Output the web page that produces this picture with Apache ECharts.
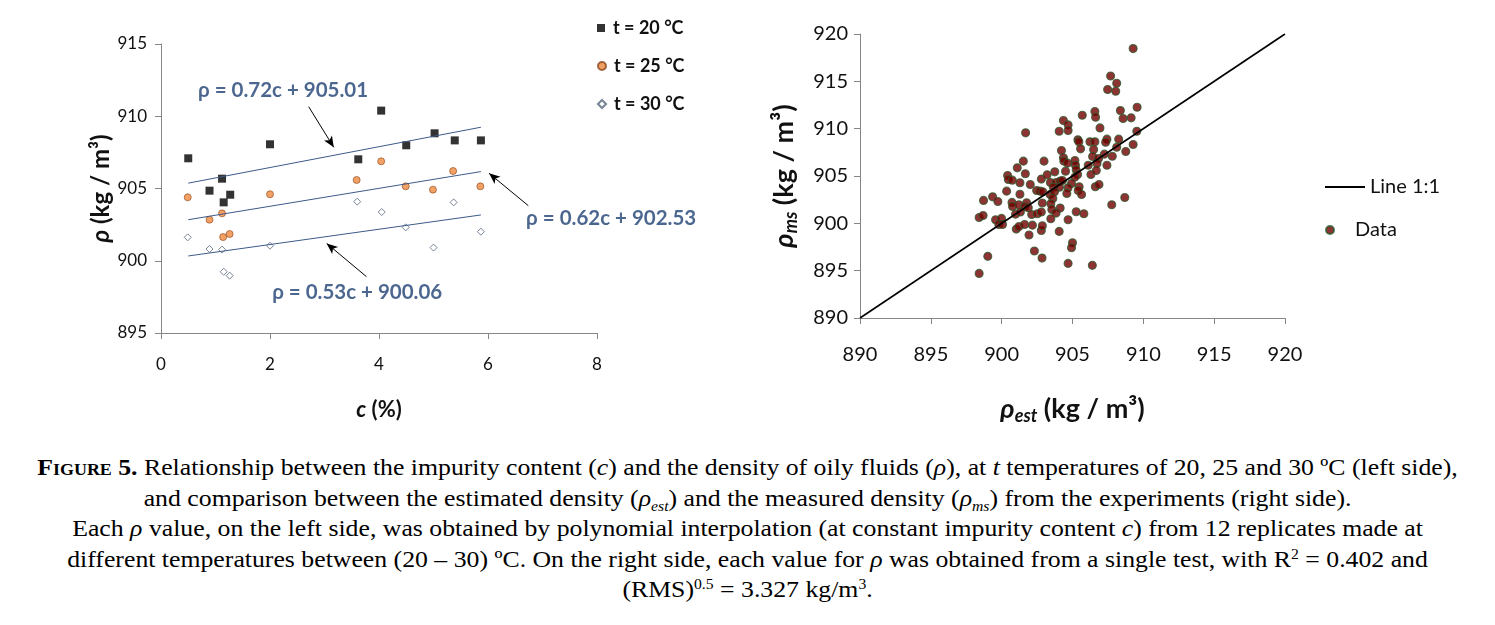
<!DOCTYPE html>
<html>
<head>
<meta charset="utf-8">
<script src="https://cdn.jsdelivr.net/npm/echarts@6/dist/echarts.min.js"></script>
<style>
  html, body { margin: 0; padding: 0; background: #fff; }
  #chart { position: absolute; left: 0; top: 0; width: 1495px; height: 440px; }
  #caption {
    position: absolute; left: 0; top: 453px; width: 1495px;
    text-align: center; font-family: "Liberation Serif", serif; font-size: 23px; line-height: 30.5px; color: #000;
    transform: scaleX(1.12); transform-origin: 747px 0;
  }
  #caption .sc { font-variant: small-caps; font-weight: bold; }
  #caption sub { font-size: 14px; vertical-align: -5px; line-height: 0; }
  #caption sup { font-size: 14px; vertical-align: 8px; line-height: 0; }
</style>
</head>
<body>
<div id="chart"></div>
<div id="caption">
<span class="sc">Figure 5.</span> Relationship between the impurity content (<i>c</i>) and the density of oily fluids (<i>ρ</i>), at <i>t</i> temperatures of 20, 25 and 30 ºC (left side),<br>
and comparison between the estimated density (<i>ρ</i><sub><i>est</i></sub>) and the measured density (<i>ρ</i><sub><i>ms</i></sub>) from the experiments (right side).<br>
Each <i>ρ</i> value, on the left side, was obtained by polynomial interpolation (at constant impurity content <i>c</i>) from 12 replicates made at<br>
different temperatures between (20 – 30) ºC. On the right side, each value for <i>ρ</i> was obtained from a single test, with R<sup>2</sup> = 0.402 and<br>
(RMS)<sup>0.5</sup> = 3.327 kg/m<sup>3</sup>.
</div>
<script>
  // left panel: impurity content c (%) vs density at three temperatures
  const temps = ["t = 20 °C", "t = 25 °C", "t = 30 °C"];
  const rho20 = [[0.50, 907.09], [0.89, 904.85], [1.12, 905.68], [1.15, 904.04], [1.27, 904.57], [2.00, 908.06],
    [3.62, 907.02], [4.04, 910.39], [4.50, 907.99], [5.02, 908.82], [5.39, 908.33], [5.87, 908.33]];
  const rho25 = [[0.49, 904.39], [0.89, 902.84], [1.12, 903.28], [1.14, 901.64], [1.26, 901.85], [2.00, 904.60],
    [3.59, 905.59], [4.04, 906.88], [4.49, 905.15], [4.99, 904.92], [5.36, 906.21], [5.86, 905.15]];
  const rho30 = [[0.49, 901.62], [0.89, 900.81], [1.12, 900.77], [1.15, 899.24], [1.26, 898.97], [2.00, 901.04],
    [3.60, 904.09], [4.05, 903.37], [4.49, 902.31], [5.00, 900.91], [5.37, 904.04], [5.87, 902.01]];
  const trend20 = [[0.5, 905.37], [5.87, 909.24]];
  const trend25 = [[0.5, 902.84], [5.87, 906.17]];
  const trend30 = [[0.5, 900.33], [5.87, 903.17]];
  const equations = ["ρ = 0.72c + 905.01", "ρ = 0.62c + 902.53", "ρ = 0.53c + 900.06"];
  const equationAt = [[0.67, 911.8], [6.69, 902.9], [2.03, 897.8]];
  const arrows = [
    [[2.71, 910.66], [3.17, 907.85]],
    [[6.74, 903.81], [6.02, 906.05]],
    [[3.77, 898.90], [3.04, 901.20]]
  ];
  const cTicks = { min: 0, max: 8, interval: 2 };
  const rhoTicks = { min: 895, max: 915, interval: 5 };

  // right panel: estimated vs measured density
  const oneToOne = [[890, 890], [920, 920]];
  const comparison = [
    [909.28, 918.46], [907.69, 915.57], [908.12, 914.80], [907.48, 914.13], [908.05, 913.95],
    [909.56, 912.27], [908.38, 911.91], [908.57, 911.07], [909.14, 911.14], [905.69, 911.42],
    [906.58, 911.81], [906.63, 911.21], [904.36, 910.86], [904.69, 910.40], [904.69, 909.80],
    [904.06, 909.73], [901.69, 909.56], [909.54, 909.73], [906.94, 910.08], [905.38, 908.82],
    [905.45, 908.61], [905.57, 907.87], [906.23, 908.61], [906.58, 908.61], [906.49, 907.80],
    [907.43, 908.89], [907.34, 908.57], [908.26, 908.89], [908.12, 908.04], [909.28, 908.33],
    [908.76, 907.59], [907.81, 907.09], [907.25, 907.31], [904.22, 907.69], [901.53, 906.57],
    [902.99, 906.57], [901.10, 905.86], [901.67, 905.23], [904.36, 906.92], [904.39, 906.57],
    [904.65, 906.36], [905.17, 906.64], [905.21, 906.14], [906.11, 906.14], [906.42, 907.06],
    [906.84, 906.85], [906.73, 906.32], [907.43, 906.14], [906.30, 905.16], [906.68, 905.58],
    [900.42, 905.05], [900.47, 904.63], [900.75, 904.56], [901.29, 904.28], [902.02, 904.10],
    [902.80, 904.67], [903.21, 905.12], [903.75, 905.44], [904.51, 905.51], [905.26, 905.65],
    [905.36, 905.16], [905.17, 904.88], [903.44, 904.32], [903.84, 904.32], [904.13, 904.46],
    [904.29, 904.53], [903.65, 903.82], [904.08, 903.82], [904.93, 904.21], [905.47, 903.86],
    [904.69, 903.75], [900.35, 903.40], [901.29, 903.08], [902.47, 903.47], [902.71, 903.40],
    [902.90, 903.33], [903.42, 903.05], [903.73, 903.33], [903.61, 902.63], [904.60, 903.16],
    [905.40, 903.47], [905.64, 903.05], [906.61, 903.86], [906.87, 904.10], [898.72, 902.42],
    [899.36, 902.80], [899.73, 902.31], [900.73, 902.21], [900.77, 901.78], [901.22, 901.96],
    [901.76, 902.17], [901.65, 901.75], [901.88, 901.64], [902.87, 902.14], [903.47, 902.06],
    [904.13, 901.61], [903.54, 901.47], [903.84, 901.08], [900.98, 900.97], [901.32, 901.19],
    [902.12, 900.94], [902.52, 901.01], [902.80, 901.19], [908.69, 902.73], [907.77, 901.96],
    [898.41, 900.62], [898.69, 900.83], [899.57, 900.38], [899.99, 900.52], [899.80, 899.88],
    [900.06, 899.88], [901.03, 899.39], [901.22, 899.67], [901.62, 899.88], [902.17, 899.81],
    [902.80, 899.25], [902.87, 899.74], [903.47, 900.48], [904.69, 900.38], [905.26, 901.22],
    [905.80, 901.01], [901.93, 898.76], [904.06, 899.15], [905.00, 897.95], [904.93, 897.42],
    [902.31, 897.07], [902.85, 896.33], [904.69, 895.77], [906.40, 895.56], [899.02, 896.51],
    [898.41, 894.71]
  ];
  const densTicks = { min: 890, max: 920, interval: 5 };

  const font = "Lato";
  const axisGray = "#868686";
  const eqBlue = "#1f4173";

  function axis(ticks, grid, labelSize, labelMargin, extra) {
    return Object.assign({
      type: "value", gridIndex: grid, min: ticks.min, max: ticks.max, interval: ticks.interval,
      splitLine: { show: false },
      axisLine: { onZero: false, lineStyle: { color: axisGray, width: 1 } },
      axisTick: { length: 6, lineStyle: { color: axisGray } },
      axisLabel: { fontFamily: font, fontSize: labelSize, color: "#111", margin: labelMargin }
    }, extra);
  }

  function nameStyle(size, sub) {
    return {
      fontFamily: font, fontSize: size, fontWeight: "bold", color: "#111",
      rich: {
        i: { fontFamily: font, fontSize: size, fontWeight: "bold", fontStyle: "italic", color: "#111" },
        s: { fontFamily: font, fontSize: Math.round(size * 0.68), fontWeight: "bold", fontStyle: "italic", color: "#111",
          padding: [sub, 0, 0, 0] }
      }
    };
  }

  function legendItem(name, icon, left, top, size, textSize, pad, bold) {
    return {
      data: [{ name, icon }], orient: "vertical", left, top,
      itemWidth: size[0], itemHeight: size[1], selectedMode: false,
      textStyle: { fontFamily: font, fontSize: textSize, fontWeight: bold ? "bold" : "normal", color: "#111",
        padding: [0, 0, 0, pad], lineHeight: 22 }
    };
  }

  const chart = echarts.init(document.getElementById("chart"));
  chart.setOption({
    animation: false,
    grid: [
      { left: 161, top: 44, width: 436, height: 289 },
      { left: 860, top: 34, width: 425, height: 284 }
    ],
    xAxis: [
      axis(cTicks, 0, 17, 23, { name: "{i|c} (%)", nameLocation: "middle", nameGap: 66, nameTextStyle: nameStyle(22, 0) }),
      axis(densTicks, 1, 20, 27, { name: "{i|ρ}{s|est} (kg / m³)", nameLocation: "middle", nameGap: 75, nameTextStyle: nameStyle(27, 14) })
    ],
    yAxis: [
      axis(rhoTicks, 0, 17, 14, { name: "{i|ρ} (kg / m³)", nameLocation: "middle", nameGap: 40, nameTextStyle: nameStyle(24, 0) }),
      axis(densTicks, 1, 20, 12, { name: "{i|ρ}{s|ms} (kg / m³)", nameLocation: "middle", nameGap: 60, nameTextStyle: nameStyle(27, 14) })
    ],
    legend: [
      legendItem(temps[0], "rect", 592, 12, [8, 8], 18, 3, true),
      legendItem(temps[1], "circle", 592, 50, [8, 8], 18, 3, true),
      legendItem(temps[2], "diamond", 592, 88, [8, 8], 18, 3, true),
      legendItem("Line 1:1", "rect", 1320, 171, [40, 2], 20, 0, false),
      legendItem("Data", "circle", 1320, 214, [40, 8], 20, 0, false)
    ],
    series: [
      { name: temps[0], type: "scatter", xAxisIndex: 0, yAxisIndex: 0, data: rho20, symbol: "rect", symbolSize: 8,
        itemStyle: { color: "#000" } },
      { name: temps[1], type: "scatter", xAxisIndex: 0, yAxisIndex: 0, data: rho25, symbol: "circle", symbolSize: 7,
        itemStyle: { color: "#f0883e", borderColor: "#8a4a1e", borderWidth: 0.8 } },
      { name: temps[2], type: "scatter", xAxisIndex: 0, yAxisIndex: 0, data: rho30, symbol: "diamond", symbolSize: 7,
        itemStyle: { color: "#fff", borderColor: "#55657c", borderWidth: 1 } },
      ...[trend20, trend25, trend30].map((line, i) => ({
        name: "trend" + i, type: "line", xAxisIndex: 0, yAxisIndex: 0, data: line, symbol: "none", silent: true,
        lineStyle: { color: "#3c5a88", width: 1 }
      })),
      { name: "equations", type: "scatter", xAxisIndex: 0, yAxisIndex: 0, silent: true, symbolSize: 1,
        itemStyle: { color: "rgba(0,0,0,0)" },
        data: equationAt.map((p, i) => [p[0], p[1], equations[i]]),
        label: { show: true, position: "right", distance: 0, formatter: (p) => p.data[2],
          fontFamily: font, fontSize: 20.5, fontWeight: "bold", color: eqBlue },
        markLine: { silent: true, symbol: ["none", "arrow"], symbolSize: [7, 11], label: { show: false },
          lineStyle: { color: "#000", width: 1, type: "solid" },
          data: arrows.map((a) => [{ coord: a[0] }, { coord: a[1] }]) } },
      { name: "Line 1:1", type: "line", xAxisIndex: 1, yAxisIndex: 1, data: oneToOne, symbol: "none",
        lineStyle: { color: "#000", width: 1.6 }, itemStyle: { color: "#000" } },
      { name: "Data", type: "scatter", xAxisIndex: 1, yAxisIndex: 1, data: comparison, symbol: "circle", symbolSize: 8,
        itemStyle: { color: "#720000", borderColor: "#2e5a2e", borderWidth: 1.1 } }
    ]
  });
</script>
</body>
</html>
